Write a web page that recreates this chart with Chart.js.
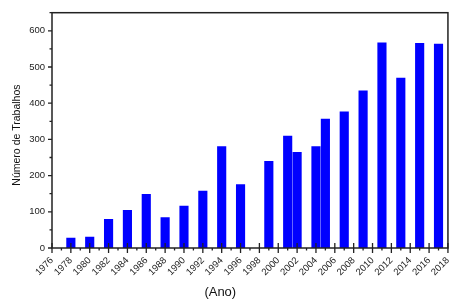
<!DOCTYPE html>
<html>
<head>
<meta charset="utf-8">
<script src="https://cdn.jsdelivr.net/npm/chart.js@4"></script>
<style>
  html, body { margin: 0; padding: 0; background: #fff; }
  #wrap { width: 463px; height: 303px; }
</style>
</head>
<body>
<div id="wrap"><canvas id="barChart" width="463" height="303"></canvas></div>
<script>
// anos com trabalhos publicados e a contagem de cada um
const years = [1978, 1980, 1982, 1984, 1986, 1988, 1990, 1992, 1994, 1996, 1999,
               2001, 2002, 2004, 2005, 2007, 2009, 2011, 2013, 2015, 2017];
const counts = [28, 31, 80, 105, 149, 85, 117, 158, 281, 176, 240,
                310, 265, 281, 357, 377, 435, 568, 470, 566, 564];
const yTitle = 'Número de Trabalhos';
const xTitle = '(Ano)';

const font = 'Liberation Sans, Arial, sans-serif';

// frame, tick marks and axis titles drawn on top of the chart
const framePlugin = {
    id: 'frame',
    afterDraw(chart) {
        const ctx = chart.ctx;
        const a = chart.chartArea;
        const x = chart.scales.x;
        const y = chart.scales.y;
        ctx.save();
        ctx.strokeStyle = '#222';
        ctx.lineWidth = 1.5;
        ctx.strokeRect(a.left, a.top, a.right - a.left, a.bottom - a.top);

        ctx.lineWidth = 1.3;
        ctx.beginPath();
        x.ticks.forEach(function (t) {
            const px = x.getPixelForValue(t.value);
            if (t.value % 2 === 0) {
                ctx.moveTo(px, a.bottom - 5);
                ctx.lineTo(px, a.bottom + 5);
            } else {
                ctx.moveTo(px, a.bottom);
                ctx.lineTo(px, a.bottom + 2.5);
            }
        });
        y.ticks.forEach(function (t) {
            const py = y.getPixelForValue(t.value);
            const len = t.value % 100 === 0 ? 4 : 2.5;
            ctx.moveTo(a.left - len, py);
            ctx.lineTo(a.left, py);
        });
        ctx.stroke();

        ctx.fillStyle = '#111';
        ctx.textAlign = 'center';
        ctx.textBaseline = 'middle';
        ctx.font = '13px ' + font;
        ctx.fillText(xTitle, a.left + 0.425 * (a.right - a.left), 292);

        ctx.translate(17, a.top + 0.52 * (a.bottom - a.top));
        ctx.rotate(-Math.PI / 2);
        ctx.font = '10.5px ' + font;
        ctx.fillText(yTitle, 0, 0);
        ctx.restore();
    }
};

const ctx = document.getElementById('barChart').getContext('2d');
const chart = new Chart(ctx, {
    type: 'bar',
    data: {
        datasets: [{
            data: years.map(function (yr, i) { return { x: yr, y: counts[i] }; }),
            backgroundColor: '#0000ff',
            borderWidth: 0,
            categoryPercentage: 1.0,
            barPercentage: 0.97
        }]
    },
    options: {
        responsive: false,
        animation: false,
        layout: { padding: { top: 5, right: 8, left: 0, bottom: 0 } },
        plugins: {
            legend: { display: false },
            tooltip: { enabled: false }
        },
        scales: {
            x: {
                type: 'linear',
                min: 1976,
                max: 2018,
                offset: false,
                grid: { display: false, drawTicks: false },
                border: { display: false },
                ticks: {
                    stepSize: 1,
                    autoSkip: false,
                    minRotation: 45,
                    maxRotation: 45,
                    padding: 7,
                    color: '#222',
                    font: { family: font, size: 9.5 },
                    callback: function (v) { return v % 2 === 0 ? String(v) : ''; }
                },
                afterFit: function (scale) { scale.height = 55; }
            },
            y: {
                min: 0,
                max: 650,
                grid: { display: false, drawTicks: false },
                border: { display: false },
                ticks: {
                    stepSize: 50,
                    padding: 7,
                    color: '#222',
                    font: { family: font, size: 9.5 },
                    callback: function (v) { return v % 100 === 0 ? String(v) : ''; }
                },
                afterFit: function (scale) { scale.width = 52; }
            }
        }
    },
    plugins: [framePlugin]
});
</script>
</body>
</html>
